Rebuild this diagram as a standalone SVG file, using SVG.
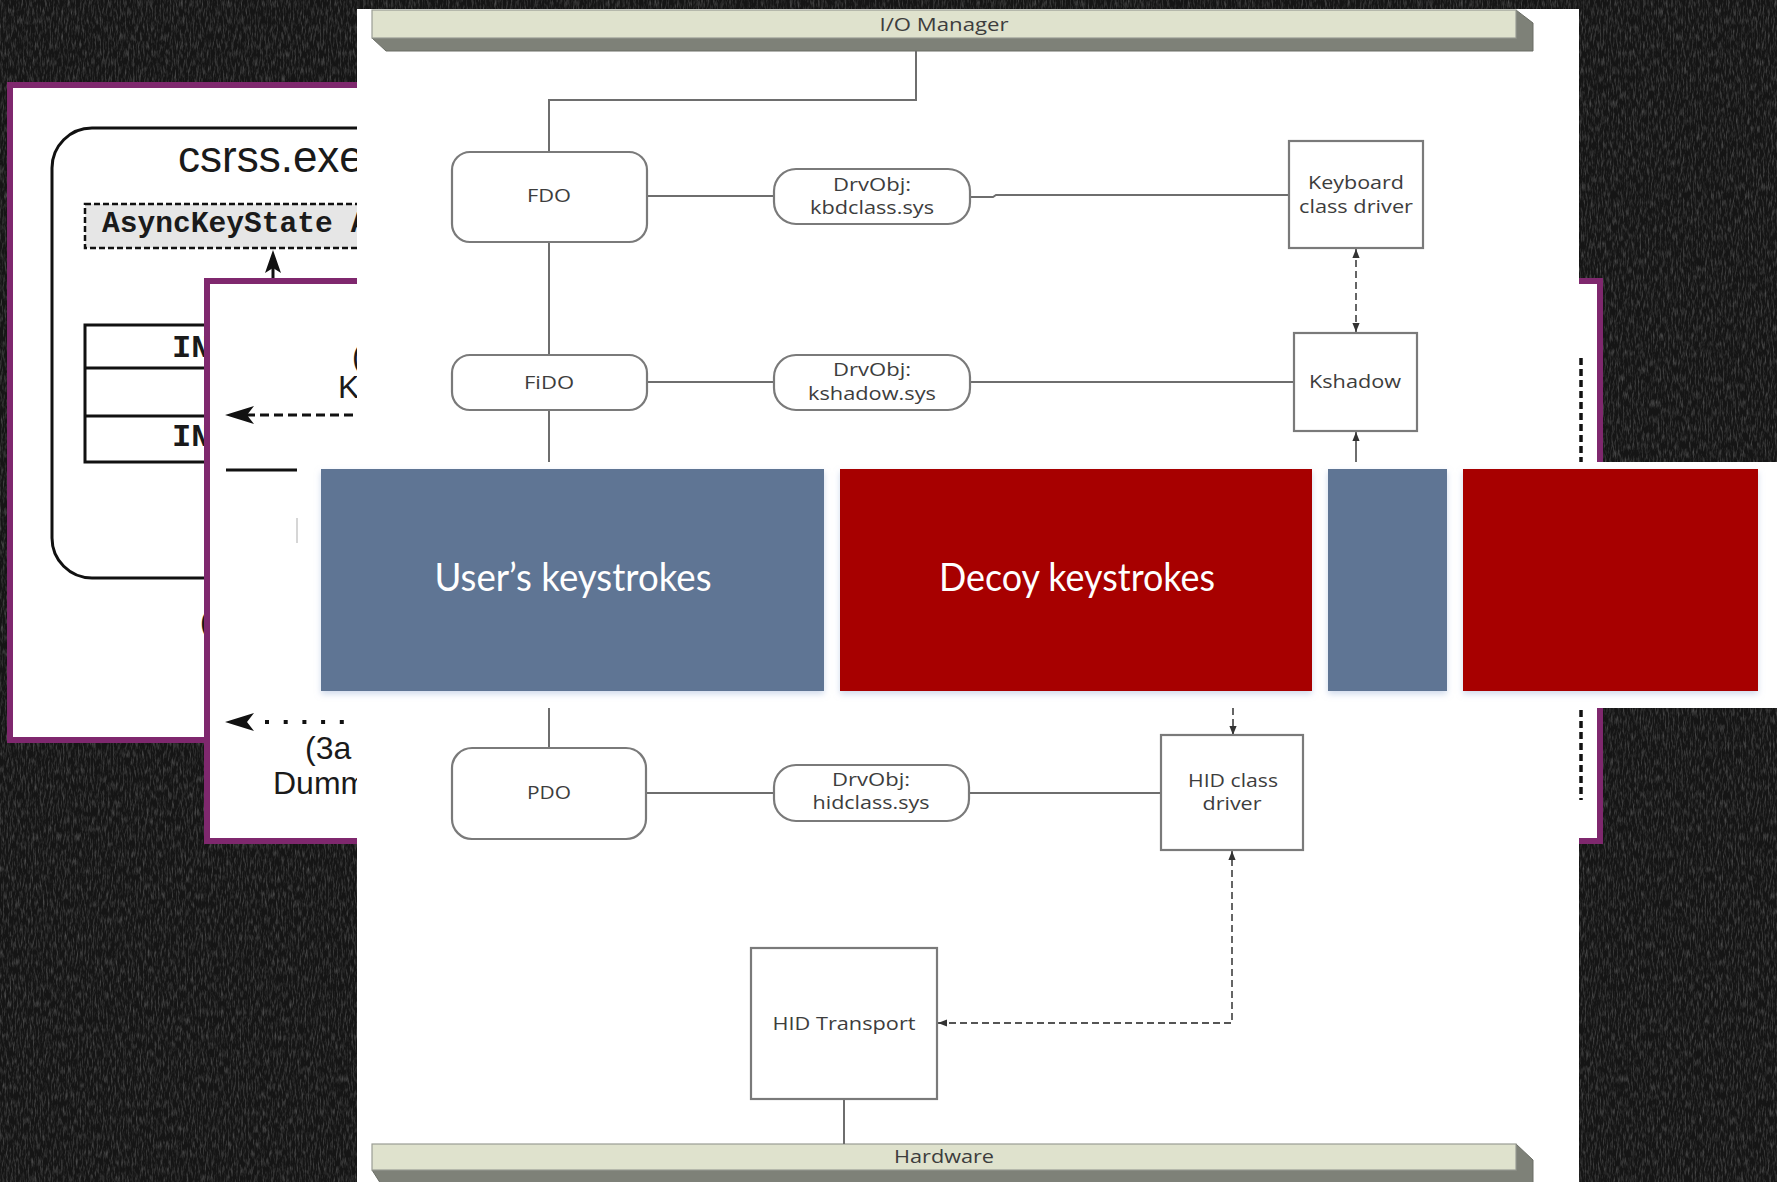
<svg xmlns="http://www.w3.org/2000/svg" width="1777" height="1182" viewBox="0 0 1777 1182">
  <defs>
    <filter id="chalk" x="0" y="0" width="100%" height="100%">
      <feTurbulence type="fractalNoise" baseFrequency="0.6 0.12" numOctaves="3" seed="7" result="n"/>
      <feColorMatrix in="n" type="matrix" values="0 0 0 0 1  0 0 0 0 1  0 0 0 0 1  0 0 0 1.2 -0.52"/>
    </filter>
    <filter id="glow" x="-5%" y="-5%" width="110%" height="115%">
      <feDropShadow dx="0" dy="3" stdDeviation="3" flood-color="#a9bcdd" flood-opacity="0.55"/>
    </filter>
    <marker id="ah" viewBox="0 0 10 10" refX="10" refY="5" markerWidth="9" markerHeight="9" markerUnits="userSpaceOnUse" orient="auto-start-reverse">
      <path d="M0,1 L10,5 L0,9 Z" fill="#333"/>
    </marker>
    <style>
      .frame { fill: #ffffff; stroke: #7f286e; stroke-width: 6; }
      .ink { fill: none; stroke: #111; stroke-width: 3; }
      .arial { font-family: "Liberation Sans", Arial, sans-serif; fill: #1a1a1a; }
      .mono { font-family: "Liberation Mono", "Courier New", monospace; font-weight: bold; fill: #1a1a1a; }
      .box { fill: #ffffff; stroke: #7a7a7a; stroke-width: 2.2; }
      .wire { fill: none; stroke: #6e6e6e; stroke-width: 2; }
      .dash { fill: none; stroke: #555; stroke-width: 1.8; stroke-dasharray: 7 4; }
      .lbl { font-family: "Open Sans", "DejaVu Sans", sans-serif; font-size: 19px; fill: #3d3d3d; text-anchor: middle; }
      .face { fill: #dfe2cd; stroke: #9a9d94; stroke-width: 1.2; }
      .side { fill: #7e8178; stroke: #6a6d65; stroke-width: 1; }
      .big { font-family: Lato, "Open Sans", sans-serif; font-size: 38px; fill: #ffffff; text-anchor: middle; }
    </style>
  </defs>

  <!-- dark chalkboard backdrop -->
  <rect x="0" y="0" width="1777" height="1182" fill="#151515"/>
  <rect x="0" y="0" width="1777" height="1182" filter="url(#chalk)" opacity="0.4"/>

  <!-- rear slide: csrss.exe structures -->
  <g id="csrss-slide">
    <rect class="frame" x="10" y="85" width="900" height="655"/>
    <rect class="ink" x="52" y="128" width="700" height="450" rx="40"/>
    <text class="arial" x="178" y="172" font-size="44">csrss.exe</text>
    <rect x="85" y="204" width="420" height="44" fill="#e6e6e6" stroke="#111" stroke-width="2.5" stroke-dasharray="6 3"/>
    <text class="mono" x="102" y="232" font-size="29.6">AsyncKeyState A</text>
    <line x1="273" y1="268" x2="273" y2="292" stroke="#111" stroke-width="3"/>
    <polygon points="273,250 281,273 273,268 265,273" fill="#111"/>
    <rect class="ink" x="85" y="325" width="420" height="137" fill="#fff"/>
    <line x1="85" y1="368" x2="505" y2="368" stroke="#111" stroke-width="3"/>
    <line x1="85" y1="416" x2="505" y2="416" stroke="#111" stroke-width="3"/>
    <text class="mono" x="172" y="357" font-size="32">IN</text>
    <text class="mono" x="172" y="446" font-size="32">IN</text>
    <text class="arial" x="200" y="632" font-size="30">(</text>
  </g>

  <!-- middle slide: keystroke paths -->
  <g id="path-slide">
    <rect class="frame" x="207" y="281" width="1393" height="560"/>
    <text class="arial" x="352" y="367" font-size="32">(</text>
    <text class="arial" x="338" y="398" font-size="32">K</text>
    <line x1="246" y1="415" x2="362" y2="415" stroke="#111" stroke-width="3" stroke-dasharray="9 5"/>
    <polygon points="225,415 254,406 247,415 254,424" fill="#111"/>
    <line x1="226" y1="470" x2="297" y2="470" stroke="#111" stroke-width="3"/>
    <line x1="265" y1="722" x2="362" y2="722" stroke="#111" stroke-width="4" stroke-dasharray="4 14.7"/>
    <polygon points="225,722 254,713 247,722 254,731" fill="#111"/>
    <text class="arial" x="305" y="759" font-size="32">(3a</text>
    <text class="arial" x="273" y="794" font-size="32">Dumm</text>
    <line x1="1581" y1="358" x2="1581" y2="800" stroke="#111" stroke-width="3.5" stroke-dasharray="7 4"/>
  </g>

  <!-- front slide: keyboard driver stack -->
  <g id="driver-stack">
    <rect x="357" y="9" width="1222" height="1185" fill="#ffffff"/>

    <g id="io-manager">
      <polygon class="side" points="372,38 1516,38 1516,10 1533,23 1533,51 386,51"/>
      <rect class="face" x="372" y="10" width="1144" height="28"/>
      <text class="lbl" x="944" y="31" textLength="129" lengthAdjust="spacingAndGlyphs">I/O Manager</text>
    </g>

    <g id="hardware">
      <polygon class="side" points="372,1170 1516,1170 1516,1144 1533,1160 1533,1192 386,1192"/>
      <rect class="face" x="372" y="1144" width="1144" height="26"/>
      <text class="lbl" x="944" y="1163" textLength="100" lengthAdjust="spacingAndGlyphs">Hardware</text>
    </g>

    <g id="connectors">
      <path class="wire" d="M916,51 V100 H549 V152"/>
      <path class="wire" d="M549,242 V354"/>
      <path class="wire" d="M549,410 V462"/>
      <path class="wire" d="M549,708 V747"/>
      <path class="wire" d="M647,196 H774"/>
      <path class="wire" d="M970,197 H993 L996,195 H1289"/>
      <path class="wire" d="M647,382 H774"/>
      <path class="wire" d="M970,382 H1294"/>
      <path class="wire" d="M646,793 H774"/>
      <path class="wire" d="M969,793 H1161"/>
      <path class="wire" d="M844,1099 V1144"/>
      <path class="dash" d="M1356,249 V332" marker-start="url(#ah)" marker-end="url(#ah)"/>
      <path class="wire" d="M1356,462 V432" marker-end="url(#ah)"/>
      <path class="dash" d="M1233,708 V735" marker-end="url(#ah)"/>
      <path class="dash" d="M938,1023 H1232 V851" stroke-dasharray="9 5" marker-start="url(#ah)" marker-end="url(#ah)"/>
    </g>

    <g id="fdo">
      <rect class="box" x="452" y="152" width="195" height="90" rx="18"/>
      <text class="lbl" x="549" y="202" textLength="44" lengthAdjust="spacingAndGlyphs">FDO</text>
    </g>
    <g id="kbdclass">
      <rect class="box" x="774" y="169" width="196" height="55" rx="22"/>
      <text class="lbl" x="872" y="191" textLength="78" lengthAdjust="spacingAndGlyphs">DrvObj:</text>
      <text class="lbl" x="872" y="214" textLength="124" lengthAdjust="spacingAndGlyphs">kbdclass.sys</text>
    </g>
    <g id="keyboard-class-driver">
      <rect class="box" x="1289" y="141" width="134" height="107"/>
      <text class="lbl" x="1356" y="189" textLength="96" lengthAdjust="spacingAndGlyphs">Keyboard</text>
      <text class="lbl" x="1356" y="213" textLength="114" lengthAdjust="spacingAndGlyphs">class driver</text>
    </g>
    <g id="fido">
      <rect class="box" x="452" y="355" width="195" height="55" rx="18"/>
      <text class="lbl" x="549" y="389" textLength="50" lengthAdjust="spacingAndGlyphs">FiDO</text>
    </g>
    <g id="kshadow-sys">
      <rect class="box" x="774" y="355" width="196" height="55" rx="22"/>
      <text class="lbl" x="872" y="376" textLength="78" lengthAdjust="spacingAndGlyphs">DrvObj:</text>
      <text class="lbl" x="872" y="400" textLength="128" lengthAdjust="spacingAndGlyphs">kshadow.sys</text>
    </g>
    <g id="kshadow">
      <rect class="box" x="1294" y="333" width="123" height="98"/>
      <text class="lbl" x="1355" y="388" textLength="92" lengthAdjust="spacingAndGlyphs">Kshadow</text>
    </g>
    <g id="pdo">
      <rect class="box" x="452" y="748" width="194" height="91" rx="20"/>
      <text class="lbl" x="549" y="799" textLength="44" lengthAdjust="spacingAndGlyphs">PDO</text>
    </g>
    <g id="hidclass-sys">
      <rect class="box" x="774" y="765" width="195" height="56" rx="22"/>
      <text class="lbl" x="871" y="786" textLength="78" lengthAdjust="spacingAndGlyphs">DrvObj:</text>
      <text class="lbl" x="871" y="809" textLength="117" lengthAdjust="spacingAndGlyphs">hidclass.sys</text>
    </g>
    <g id="hid-class-driver">
      <rect class="box" x="1161" y="735" width="142" height="115"/>
      <text class="lbl" x="1233" y="787" textLength="90" lengthAdjust="spacingAndGlyphs">HID class</text>
      <text class="lbl" x="1232" y="810" textLength="59" lengthAdjust="spacingAndGlyphs">driver</text>
    </g>
    <g id="hid-transport">
      <rect class="box" x="751" y="948" width="186" height="151"/>
      <text class="lbl" x="844" y="1030" textLength="143" lengthAdjust="spacingAndGlyphs">HID Transport</text>
    </g>
  </g>

  <!-- keystroke band laid across all slides -->
  <g id="keystroke-band">
    <rect x="297" y="462" width="1480" height="246" fill="#ffffff"/>
    <line x1="297" y1="518" x2="297" y2="543" stroke="#d6d6d6" stroke-width="2"/>
    <g filter="url(#glow)">
      <rect id="users-keys" x="321" y="469" width="503" height="222" fill="#5f7594"/>
      <rect id="decoy-keys" x="840" y="469" width="472" height="222" fill="#a70003"/>
      <rect id="users-keys-2" x="1328" y="469" width="119" height="222" fill="#5f7594"/>
      <rect id="decoy-keys-2" x="1463" y="469" width="295" height="222" fill="#a70003"/>
    </g>
    <text class="big" x="573" y="591" textLength="277" lengthAdjust="spacingAndGlyphs">User’s keystrokes</text>
    <text class="big" x="1077" y="591" textLength="276" lengthAdjust="spacingAndGlyphs">Decoy keystrokes</text>
  </g>
</svg>
